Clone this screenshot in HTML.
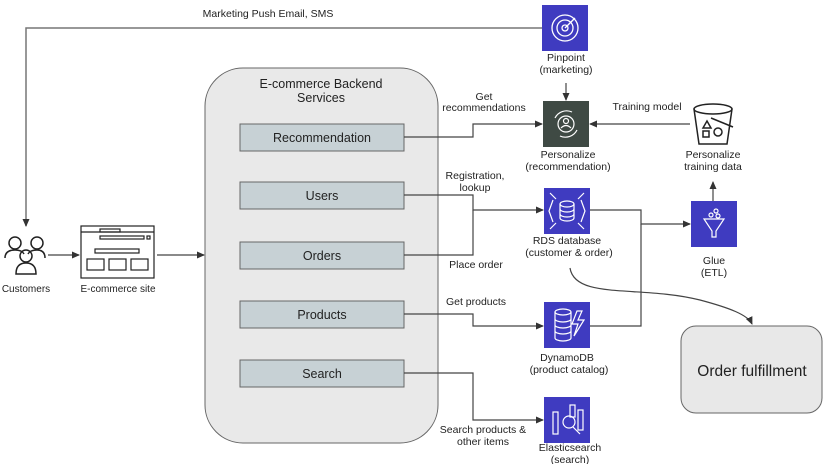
<!DOCTYPE html>
<html><head><meta charset="utf-8"><style>
html,body{margin:0;padding:0;background:#fff;}
svg{display:block;font-family:"Liberation Sans",Arial,sans-serif;}
</style></head><body>
<svg width="825" height="464" viewBox="0 0 825 464" xmlns="http://www.w3.org/2000/svg">
<defs>
<marker id="a" markerWidth="8" markerHeight="8" refX="7" refY="4" orient="auto" markerUnits="userSpaceOnUse"><path d="M0,0.5 L8,4 L0,7.5 Z" fill="#333"/></marker>
</defs>
<g fill="#222" font-size="10.5" text-anchor="middle">
<!-- top marketing line -->
<path d="M542,28 H26 V226" stroke="#777" stroke-width="1.5" fill="none" marker-end="url(#a)"/>
<text x="268" y="17" font-size="10.5">Marketing Push Email, SMS</text>

<!-- backend container -->
<rect x="205" y="68" width="233" height="375" rx="38" fill="#e9e9e9" stroke="#666" stroke-width="1"/>
<text x="321" y="88" font-size="12.5">E-commerce Backend</text>
<text x="321" y="102" font-size="12.5">Services</text>
<g stroke="#666" stroke-width="1" fill="#c7d1d5">
<rect x="240" y="124" width="164" height="27"/>
<rect x="240" y="182" width="164" height="27"/>
<rect x="240" y="242" width="164" height="27"/>
<rect x="240" y="301" width="164" height="27"/>
<rect x="240" y="360" width="164" height="27"/>
</g>
<g font-size="12.5">
<text x="322" y="142">Recommendation</text>
<text x="322" y="200">Users</text>
<text x="322" y="260">Orders</text>
<text x="322" y="319">Products</text>
<text x="322" y="378">Search</text>
</g>

<!-- connectors -->
<g stroke="#444" stroke-width="1.2" fill="none">
<path d="M404,137 H473 V124 H542" marker-end="url(#a)"/>
<path d="M404,195 H473 V210 H543" marker-end="url(#a)"/>
<path d="M404,255 H473 V210"/>
<path d="M404,314 H473 V326 H543" marker-end="url(#a)"/>
<path d="M404,373 H473 V420 H543" marker-end="url(#a)"/>
<path d="M590,210 H641 V224 H690" marker-end="url(#a)"/>
<path d="M590,326 H641 V224"/>
<path d="M713,201 V182" marker-end="url(#a)"/>
<path d="M690,124 H590" marker-end="url(#a)"/>
<path d="M566,83 V100" marker-end="url(#a)"/>
<path d="M570,268 C575,300 640,285 700,300 C730,308 748,315 752,324" marker-end="url(#a)"/>
<path d="M48,255 H79" marker-end="url(#a)"/>
<path d="M157,255 H204" marker-end="url(#a)"/>
</g>

<!-- labels on connectors -->
<text x="484" y="100">Get</text>
<text x="484" y="111">recommendations</text>
<text x="475" y="179">Registration,</text>
<text x="475" y="191">lookup</text>
<text x="476" y="268">Place order</text>
<text x="476" y="305">Get products</text>
<text x="483" y="433">Search products &amp;</text>
<text x="483" y="445">other items</text>
<text x="647" y="110">Training model</text>

<!-- Pinpoint -->
<rect x="542" y="5" width="46" height="46" fill="#3f3bc0"/>
<g stroke="#fff" stroke-width="1.3" fill="none"><circle cx="565" cy="28" r="13"/><circle cx="565" cy="28" r="8"/><circle cx="565" cy="28" r="3"/><path d="M565,28 L575,18"/></g>
<text x="566" y="61">Pinpoint</text>
<text x="566" y="73">(marketing)</text>

<!-- Personalize -->
<rect x="543" y="101" width="46" height="46" fill="#3f4a44"/>
<g stroke="#fff" stroke-width="1.2" fill="none"><circle cx="566" cy="124" r="8"/><circle cx="566" cy="121" r="2.5"/><path d="M561,128 Q566,123 571,128"/><path d="M555,118 A13,13 0 0 1 572,112"/><path d="M577,130 A13,13 0 0 1 560,136"/></g>
<text x="568" y="158">Personalize</text>
<text x="568" y="170">(recommendation)</text>

<!-- bucket -->
<g stroke="#222" stroke-width="1.5" fill="none"><ellipse cx="713" cy="109" rx="19" ry="5"/><path d="M694,109 L699,144 H727 L732,109"/><path d="M703,128 L707,121 L711,128 Z"/><rect x="703" y="131" width="6" height="6"/><circle cx="718" cy="132" r="4"/><path d="M711,118 L733,127"/></g>
<text x="713" y="158">Personalize</text>
<text x="713" y="170">training data</text>

<!-- RDS -->
<rect x="544" y="188" width="46" height="46" fill="#3f3bc0"/>
<g stroke="#fff" stroke-width="1.2" fill="none"><ellipse cx="567" cy="204" rx="7" ry="3"/><path d="M560,204 V218 A7,3 0 0 0 574,218 V204 M560,209 A7,3 0 0 0 574,209 M560,214 A7,3 0 0 0 574,214"/><path d="M553,200 L549,211 L553,222 M581,200 L585,211 L581,222 M550,193 L556,199 M584,193 L578,199 M550,229 L556,223 M584,229 L578,223"/></g>
<text x="567" y="244">RDS database</text>
<text x="569" y="256">(customer &amp; order)</text>

<!-- Glue -->
<rect x="691" y="201" width="46" height="46" fill="#3f3bc0"/>
<g stroke="#fff" stroke-width="1.2" fill="none"><path d="M704,219 H724 L716,231 V237 H712 V231 Z"/><circle cx="711" cy="215" r="2"/><circle cx="716" cy="211" r="2"/><circle cx="718" cy="216" r="2"/></g>
<text x="714" y="264">Glue</text>
<text x="714" y="276">(ETL)</text>

<!-- DynamoDB -->
<rect x="544" y="302" width="46" height="46" fill="#3f3bc0"/>
<g stroke="#fff" stroke-width="1.2" fill="none"><ellipse cx="563" cy="312" rx="8" ry="3"/><path d="M555,312 V338 A8,3 0 0 0 571,338 V312 M555,319 A8,3 0 0 0 571,319 M555,325 A8,3 0 0 0 571,325 M555,331 A8,3 0 0 0 571,331"/><path d="M577,311 L572,324 H578 L574,336 L584,320 H578 L582,311 Z"/></g>
<text x="567" y="361">DynamoDB</text>
<text x="569" y="373">(product catalog)</text>

<!-- Elasticsearch -->
<rect x="544" y="397" width="46" height="46" fill="#3f3bc0"/>
<g stroke="#fff" stroke-width="1.2" fill="none"><rect x="553" y="412" width="5" height="22"/><rect x="570" y="405" width="5" height="12"/><rect x="578" y="410" width="5" height="20"/><circle cx="569" cy="422" r="6"/><path d="M573,427 L580,434"/></g>
<text x="570" y="451">Elasticsearch</text>
<text x="570" y="463">(search)</text>

<!-- Order fulfillment -->
<rect x="681" y="326" width="141" height="87" rx="15" fill="#e8e8e8" stroke="#666" stroke-width="1"/>
<text x="752" y="376" font-size="15.5">Order fulfillment</text>

<!-- Customers -->
<g stroke="#222" stroke-width="1.5" fill="none">
<circle cx="15" cy="243" r="6"/><path d="M5,258 Q5,250 15,250 Q22,250 24,254"/>
<circle cx="37" cy="243" r="6"/><path d="M45,258 Q45,250 37,250 Q30,250 28,254"/>
<circle cx="26" cy="256" r="6"/><path d="M16,274 Q16,263 26,263 Q36,263 36,274 Z"/>
</g>
<text x="26" y="292" font-size="10">Customers</text>

<!-- Site -->
<g stroke="#222" stroke-width="1.2" fill="none">
<rect x="81" y="226" width="73" height="52"/>
<path d="M81,232 H154"/><rect x="100" y="229" width="20" height="3"/>
<rect x="100" y="236" width="44" height="3"/><rect x="147" y="236" width="3" height="3"/>
<rect x="95" y="249" width="44" height="4"/>
<rect x="87" y="259" width="17" height="11"/><rect x="109" y="259" width="17" height="11"/><rect x="131" y="259" width="17" height="11"/>
</g>
<text x="118" y="292" font-size="10">E-commerce site</text>
</g>
</svg>
</body></html>
